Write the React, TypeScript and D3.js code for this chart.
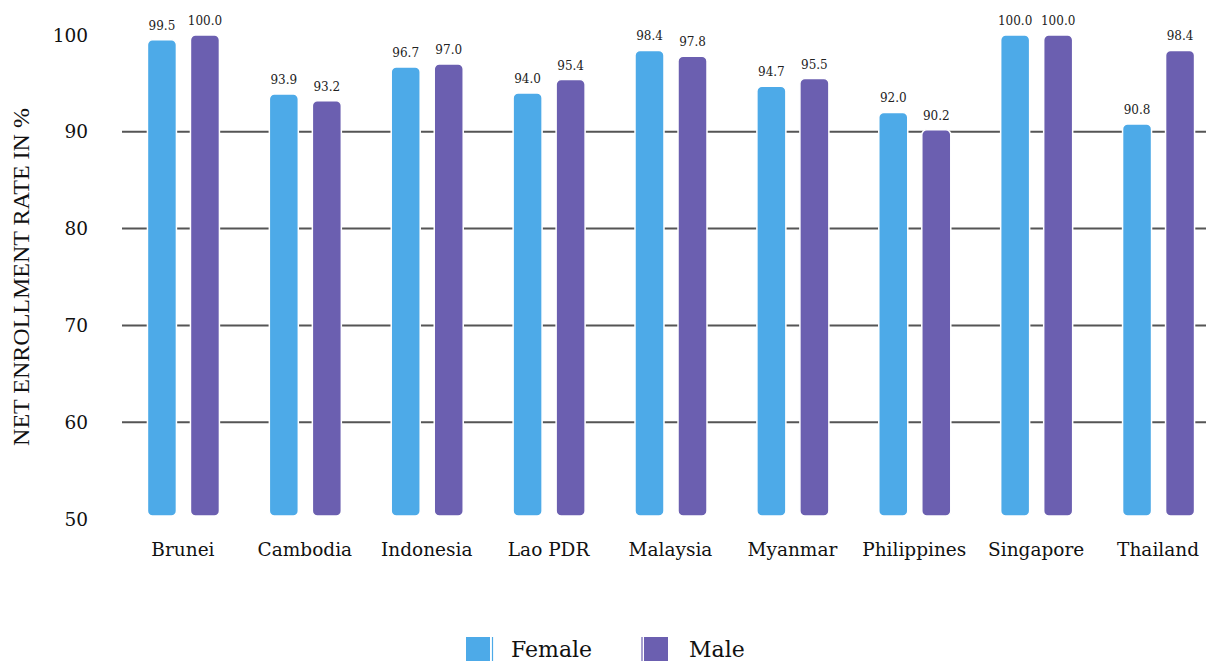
import React from "react";
import * as d3 from "d3";

const categories = ["Brunei", "Cambodia", "Indonesia", "Lao PDR", "Malaysia", "Myanmar", "Philippines", "Singapore", "Thailand"];
const female = [99.5, 93.9, 96.7, 94.0, 98.4, 94.7, 92.0, 100.0, 90.8];
const male = [100.0, 93.2, 97.0, 95.4, 97.8, 95.5, 90.2, 100.0, 98.4];
const yTicks = [50, 60, 70, 80, 90, 100];
const gridTicks = [60, 70, 80, 90];
const seriesNames = ["Female", "Male"];
const colors = ["#4DAAE8", "#6B5FB0"];

const W = 1206;
const H = 661;
const FONT = "'DejaVu Serif', serif";

export default function App() {
  const x = d3.scaleBand<string>().domain(categories).range([122, 1219]).paddingInner(0).paddingOuter(0);
  const y = d3.scaleLinear().domain([50, 100]).range([519, 35]);
  const sub = d3.scaleBand<string>().domain(seriesNames).range([0, 72]).paddingInner(0.326);
  const series = [female, male];

  return (
    <svg width={W} height={H} style={{ position: "absolute", left: 0, top: 0, background: "#fff" }}>
      {gridTicks.map((t) => (
        <line key={t} x1={122} x2={W} y1={y(t)} y2={y(t)} stroke="#555" strokeWidth={2} />
      ))}
      {yTicks.map((t) => (
        <text key={t} x={88} y={y(t) + 6.5} textAnchor="end" fontFamily={FONT} fontSize={18.5} fill="#111">
          {t}
        </text>
      ))}
      <text
        transform={`translate(29,277) rotate(-90)`}
        textAnchor="middle"
        fontFamily="'Liberation Serif', serif"
        fontSize={24}
        fill="#111"
      >
        NET ENROLLMENT RATE IN %
      </text>
      {categories.map((c, i) => {
        const cx = (x(c) as number) + x.bandwidth() / 2;
        const gx = cx - 35.5;
        return (
          <g key={c}>
            {series.map((s, k) => {
              const bx = gx + (sub(seriesNames[k]) as number);
              const top = y(s[i]);
              const bottom = y(50) - 3;
              return (
                <g key={k}>
                  <rect
                    x={bx}
                    y={top}
                    width={sub.bandwidth()}
                    height={bottom - top}
                    rx={5}
                    ry={5}
                    fill={colors[k]}
                    stroke="#fff"
                    strokeWidth={1.5}
                  />
                  <text
                    x={bx + sub.bandwidth() / 2}
                    y={top - 10}
                    textAnchor="middle"
                    fontFamily={FONT}
                    fontSize={12}
                    fill="#222"
                  >
                    {s[i].toFixed(1)}
                  </text>
                </g>
              );
            })}
            <text x={cx} y={556} textAnchor="middle" fontFamily={FONT} fontSize={18.5} fill="#111">
              {c}
            </text>
          </g>
        );
      })}
      {seriesNames.map((n, k) => {
        const lx = k === 0 ? 466 : 644;
        return (
          <g key={n}>
            <rect x={lx} y={637} width={24} height={30} fill={colors[k]} />
            <line
              x1={k === 0 ? lx + 26.5 : lx - 2}
              x2={k === 0 ? lx + 26.5 : lx - 2}
              y1={637}
              y2={H}
              stroke={colors[k]}
              strokeWidth={1.2}
            />
            <text x={lx + 45} y={657} fontFamily={FONT} fontSize={22} fill="#111">
              {n}
            </text>
          </g>
        );
      })}
    </svg>
  );
}
